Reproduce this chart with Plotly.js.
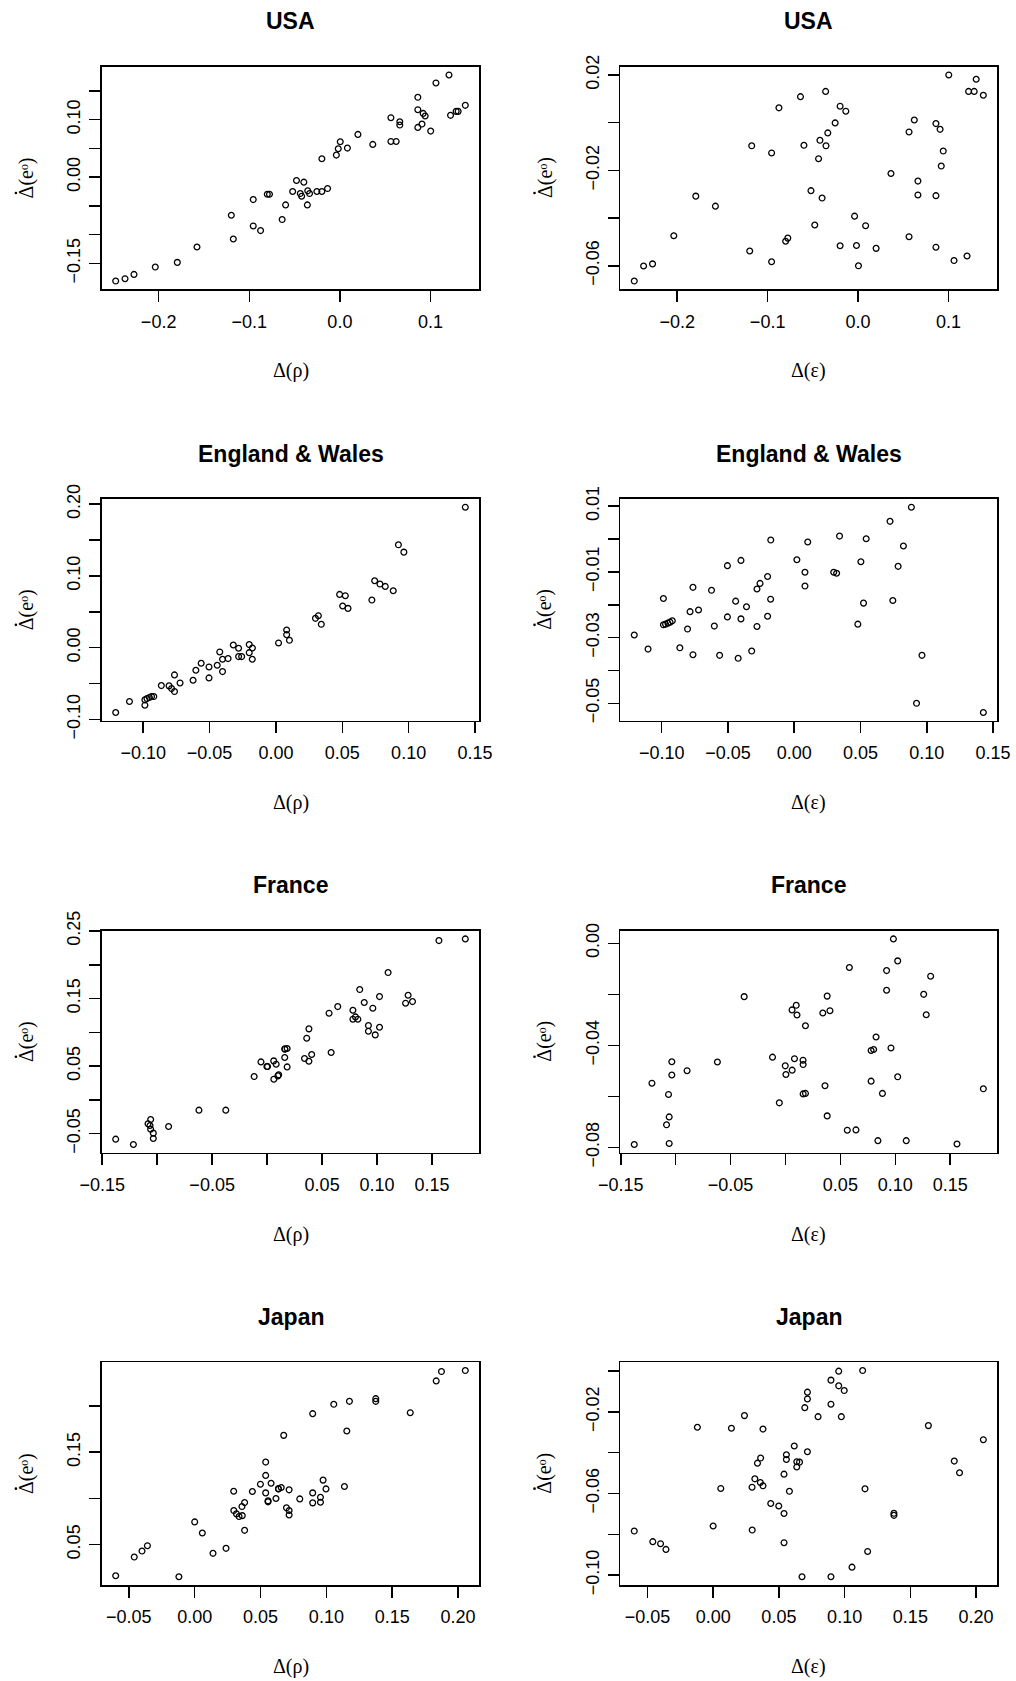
<!DOCTYPE html>
<html>
<head>
<meta charset="utf-8">
<script src="https://cdn.plot.ly/plotly-3.0.1.min.js"></script>
<style>
  html, body { margin: 0; padding: 0; background: #ffffff; }
  #chart { width: 1016px; height: 1681px; }
</style>
</head>
<body>
<div id="chart"></div>
<script>
// ---------------- DATA ----------------
const countries = ['USA', 'England & Wales', 'France', 'Japan'];

// USA: shared x, y for Δ(ρ) panel and Δ(ε) panel
const usaX = [-0.2474,-0.2371,-0.2272,-0.2037,-0.1794,-0.1577,-0.1198,-0.1176,-0.0956,-0.0956,
  -0.0875,-0.0801,-0.0777,-0.0637,-0.0599,-0.0521,-0.0479,-0.0437,-0.0422,-0.0398,
  -0.0359,-0.0355,-0.0335,-0.0254,-0.0199,-0.0199,-0.0136,-0.0039,-0.0018,0.0004,
  0.0083,0.0199,0.0363,0.0563,0.0563,0.0621,0.0661,0.0661,0.0860,0.0860,
  0.0860,0.0906,0.0919,0.0941,0.1002,0.1060,0.1204,0.1221,0.1283,0.1305,0.1384];
const usaRho = [-0.1808,-0.1767,-0.1692,-0.1564,-0.1483,-0.1215,-0.0663,-0.1076,-0.0390,-0.0849,
  -0.0930,-0.0297,-0.0297,-0.0738,-0.0483,-0.0250,-0.0058,-0.0285,-0.0331,-0.0087,
  -0.0483,-0.0238,-0.0285,-0.0250,-0.0250,0.0320,-0.0198,0.0384,0.0494,0.0616,
  0.0506,0.0744,0.0570,0.1035,0.0622,0.0622,0.0965,0.0907,0.1390,0.1174,
  0.0866,0.0924,0.1110,0.1064,0.0802,0.1640,0.1779,0.1076,0.1145,0.1145,0.1250];
const usaEps = [-0.0664,-0.0601,-0.0592,-0.0474,-0.0308,-0.0350,-0.0538,-0.0097,-0.0127,-0.0583,
  0.0062,-0.0497,-0.0484,0.0109,-0.0095,-0.0285,-0.0429,-0.0151,-0.0074,-0.0316,
  0.0131,-0.0097,-0.0043,-0.0001,0.0069,-0.0516,0.0048,-0.0392,-0.0515,-0.0600,
  -0.0432,-0.0527,-0.0213,-0.0039,-0.0478,0.0011,-0.0245,-0.0303,-0.0004,-0.0306,
  -0.0522,-0.0028,-0.0182,-0.0119,0.0200,-0.0578,-0.0559,0.0131,0.0131,0.0182,0.0115];

// England & Wales
const ewX = [-0.1207,-0.1103,-0.0987,-0.0987,-0.0971,-0.0953,-0.0937,-0.0920,-0.0863,-0.0805,
  -0.0786,-0.0764,-0.0764,-0.0722,-0.0624,-0.0603,-0.0563,-0.0504,-0.0504,-0.0442,
  -0.0423,-0.0402,-0.0402,-0.0360,-0.0321,-0.0281,-0.0281,-0.0258,-0.0201,-0.0201,
  -0.0177,-0.0178,0.0020,0.0081,0.0081,0.0102,0.0298,0.0320,0.0342,0.0480,
  0.0503,0.0523,0.0543,0.0723,0.0744,0.0784,0.0824,0.0884,0.0923,0.0964,0.1427];
const ewRho = [-0.0904,-0.0751,-0.0802,-0.0728,-0.0710,-0.0696,-0.0682,-0.0682,-0.0529,-0.0533,
  -0.0571,-0.0612,-0.0380,-0.0492,-0.0455,-0.0315,-0.0218,-0.0269,-0.0422,-0.0246,
  -0.0060,-0.0162,-0.0334,-0.0153,0.0037,-0.0009,-0.0125,-0.0125,0.0042,-0.0070,
  -0.0005,-0.0162,0.0065,0.0246,0.0181,0.0102,0.0408,0.0445,0.0325,0.0742,
  0.0580,0.0724,0.0547,0.0663,0.0932,0.0886,0.0853,0.0793,0.1433,0.1331,0.1957];
const ewEps = [-0.0292,-0.0335,-0.0181,-0.0261,-0.0259,-0.0256,-0.0253,-0.0249,-0.0331,-0.0274,
  -0.0221,-0.0147,-0.0352,-0.0216,-0.0156,-0.0265,-0.0354,-0.0081,-0.0237,-0.0189,
  -0.0363,-0.0065,-0.0243,-0.0206,-0.0341,-0.0152,-0.0266,-0.0135,-0.0114,-0.0235,
  -0.0003,-0.0183,-0.0063,-0.0101,-0.0143,-0.0009,-0.0101,-0.0104,0.0009,-0.0259,
  -0.0069,-0.0195,0.0001,0.0054,-0.0187,-0.0083,-0.0021,0.0097,-0.0500,-0.0354,-0.0528];

// France
const frX = [-0.1377,-0.1216,-0.1083,-0.1065,-0.1059,-0.1059,-0.1035,-0.1035,-0.0896,-0.0620,
  -0.0376,-0.0118,-0.0056,-0.0002,0.0004,0.0060,0.0061,0.0082,0.0098,0.0105,
  0.0160,0.0161,0.0161,0.0182,0.0182,0.0340,0.0360,0.0380,0.0380,0.0405,
  0.0563,0.0582,0.0642,0.0780,0.0780,0.0803,0.0825,0.0842,0.0883,0.0921,
  0.0921,0.0961,0.0983,0.1022,0.1022,0.1100,0.1259,0.1282,0.1322,0.1562,0.1802];
const frRho = [-0.0582,-0.0661,-0.0355,-0.0380,-0.0291,-0.0434,-0.0493,-0.0572,-0.0395,-0.0153,
  -0.0153,0.0345,0.0562,0.0493,0.0493,0.0577,0.0306,0.0528,0.0355,0.0370,
  0.0627,0.0755,0.0750,0.0760,0.0488,0.0612,0.0913,0.1051,0.0572,0.0671,
  0.1283,0.0701,0.1381,0.1327,0.1194,0.1228,0.1194,0.1633,0.1441,0.1100,
  0.1016,0.1357,0.0962,0.1529,0.1075,0.1885,0.1431,0.1549,0.1455,0.2358,0.2383];
const frEps = [-0.0788,-0.0548,-0.0711,-0.0592,-0.0680,-0.0784,-0.0464,-0.0516,-0.0499,-0.0465,
  -0.0209,-0.0446,-0.0625,-0.0480,-0.0514,-0.0261,-0.0497,-0.0452,-0.0243,-0.0281,
  -0.0458,-0.0475,-0.0590,-0.0588,-0.0323,-0.0273,-0.0558,-0.0207,-0.0676,-0.0264,
  -0.0732,-0.0095,-0.0731,-0.0420,-0.0540,-0.0416,-0.0367,-0.0773,-0.0588,-0.0107,
  -0.0184,-0.0410,0.0017,-0.0069,-0.0523,-0.0773,-0.0200,-0.0280,-0.0129,-0.0786,-0.0570];

// Japan
const jpX = [-0.0600,-0.0459,-0.0400,-0.0359,-0.0120,0.0000,0.0058,0.0139,0.0238,0.0296,
  0.0297,0.0317,0.0337,0.0361,0.0359,0.0379,0.0379,0.0438,0.0499,0.0539,
  0.0539,0.0539,0.0557,0.0557,0.0580,0.0617,0.0636,0.0636,0.0657,0.0676,
  0.0697,0.0717,0.0717,0.0717,0.0798,0.0896,0.0896,0.0896,0.0955,0.0955,
  0.0975,0.0997,0.1056,0.1137,0.1155,0.1175,0.1375,0.1375,0.1637,0.1834,0.1874,0.2055];
const jpRho = [0.0163,0.0365,0.0430,0.0488,0.0152,0.0745,0.0625,0.0405,0.0459,0.1077,
  0.0868,0.0832,0.0803,0.0813,0.0911,0.0954,0.0654,0.1074,0.1153,0.1392,
  0.1248,0.1059,0.0973,0.0962,0.1163,0.0998,0.1106,0.1100,0.1117,0.1681,
  0.0897,0.1092,0.0868,0.0821,0.0994,0.1916,0.1059,0.0951,0.1012,0.0958,
  0.1197,0.1102,0.2017,0.1128,0.1728,0.2049,0.2078,0.2049,0.1926,0.2270,0.2371,0.2382];
const jpEps = [-0.0784,-0.0836,-0.0846,-0.0874,-0.0275,-0.0759,-0.0575,-0.0280,-0.0218,-0.0569,
  -0.0779,-0.0528,-0.0451,-0.0426,-0.0546,-0.0562,-0.0284,-0.0649,-0.0661,-0.0505,
  -0.0698,-0.0841,-0.0410,-0.0433,-0.0589,-0.0367,-0.0444,-0.0470,-0.0446,-0.1008,
  -0.0179,-0.0103,-0.0136,-0.0395,-0.0223,-0.0044,-0.0162,-0.1008,0.0000,-0.0072,
  -0.0223,-0.0095,-0.0961,0.0003,-0.0577,-0.0884,-0.0697,-0.0707,-0.0267,-0.0441,-0.0498,-0.0336];

// Tick values and labels (ticks whose label R skipped carry an empty label -> drawn as unlabeled ticks)
const M = '\u2212';
const usaXTickVals = [-0.2, -0.1, 0, 0.1];
const usaXTickText = [M+'0.2', M+'0.1', '0.0', '0.1'];
const usaRhoTickVals = [-0.15, -0.10, -0.05, 0, 0.05, 0.10, 0.15];
const usaRhoTickText = [M+'0.15', '', '', '0.00', '', '0.10', ''];
const usaEpsTickVals = [-0.06, -0.04, -0.02, 0, 0.02];
const usaEpsTickText = [M+'0.06', '', M+'0.02', '', '0.02'];

const ewXTickVals = [-0.10, -0.05, 0, 0.05, 0.10, 0.15];
const ewXTickText = [M+'0.10', M+'0.05', '0.00', '0.05', '0.10', '0.15'];
const ewRhoTickVals = [-0.10, -0.05, 0, 0.05, 0.10, 0.15, 0.20];
const ewRhoTickText = [M+'0.10', '', '0.00', '', '0.10', '', '0.20'];
const ewEpsTickVals = [-0.05, -0.04, -0.03, -0.02, -0.01, 0, 0.01];
const ewEpsTickText = [M+'0.05', '', M+'0.03', '', M+'0.01', '', '0.01'];

const frXTickVals = [-0.15, -0.10, -0.05, 0, 0.05, 0.10, 0.15];
const frXTickText = [M+'0.15', '', M+'0.05', '', '0.05', '0.10', '0.15'];
const frRhoTickVals = [-0.05, 0, 0.05, 0.10, 0.15, 0.20, 0.25];
const frRhoTickText = [M+'0.05', '', '0.05', '', '0.15', '', '0.25'];
const frEpsTickVals = [-0.08, -0.06, -0.04, -0.02, 0];
const frEpsTickText = [M+'0.08', '', M+'0.04', '', '0.00'];

const jpXTickVals = [-0.05, 0, 0.05, 0.10, 0.15, 0.20];
const jpXTickText = [M+'0.05', '0.00', '0.05', '0.10', '0.15', '0.20'];
const jpRhoTickVals = [0.05, 0.10, 0.15, 0.20];
const jpRhoTickText = ['0.05', '', '0.15', ''];
const jpEpsTickVals = [-0.10, -0.08, -0.06, -0.04, -0.02, 0];
const jpEpsTickText = [M+'0.10', '', M+'0.06', '', M+'0.02', ''];

const xLabelRho = '\u0394(\u03C1)';
const xLabelEps = '\u0394(\u03B5)';
const yLabel = '\u0394(e\u1D52)';   // the dot over Δ is drawn as a small mark

// ---------------- LAYOUT GEOMETRY (pixels) ----------------
const W = 1016, H = 1681;
const colL = [101.7, 620.3], colR = [479.3, 997.3];
const rowT = [66.7, 499, 930.7, 1362.3], rowB = [289.3, 720.7, 1152.7, 1585];

function rRange(a) {
  const mn = Math.min(...a), mx = Math.max(...a), d = (mx - mn) * 0.04;
  return [mn - d, mx + d];
}
function split(vals, texts) {
  const mv = [], mt = [], nv = [];
  vals.forEach((v, i) => { if (texts[i] !== '') { mv.push(v); mt.push(texts[i]); } else { nv.push(v); } });
  return {mv, mt, nv};
}

const panels = [
  {x: usaX, y: usaRho, xv: usaXTickVals, xt: usaXTickText, yv: usaRhoTickVals, yt: usaRhoTickText, xl: xLabelRho},
  {x: usaX, y: usaEps, xv: usaXTickVals, xt: usaXTickText, yv: usaEpsTickVals, yt: usaEpsTickText, xl: xLabelEps},
  {x: ewX, y: ewRho, xv: ewXTickVals, xt: ewXTickText, yv: ewRhoTickVals, yt: ewRhoTickText, xl: xLabelRho},
  {x: ewX, y: ewEps, xv: ewXTickVals, xt: ewXTickText, yv: ewEpsTickVals, yt: ewEpsTickText, xl: xLabelEps},
  {x: frX, y: frRho, xv: frXTickVals, xt: frXTickText, yv: frRhoTickVals, yt: frRhoTickText, xl: xLabelRho},
  {x: frX, y: frEps, xv: frXTickVals, xt: frXTickText, yv: frEpsTickVals, yt: frEpsTickText, xl: xLabelEps},
  {x: jpX, y: jpRho, xv: jpXTickVals, xt: jpXTickText, yv: jpRhoTickVals, yt: jpRhoTickText, xl: xLabelRho},
  {x: jpX, y: jpEps, xv: jpXTickVals, xt: jpXTickText, yv: jpEpsTickVals, yt: jpEpsTickText, xl: xLabelEps}
];

const tickFont = {family: 'Liberation Sans, Arial, sans-serif', size: 18, color: '#000'};
const labFont = {family: 'Liberation Serif, DejaVu Serif, serif', size: 20, color: '#000'};
const titleFont = {family: 'Liberation Sans, Arial, sans-serif', size: 23, color: '#000', weight: 700};

const traces = [];
const layout = {
  width: W, height: H,
  margin: {l: 0, r: 0, t: 0, b: 0},
  paper_bgcolor: '#fff', plot_bgcolor: '#fff',
  showlegend: false,
  annotations: [],
  shapes: []
};

panels.forEach((p, i) => {
  const k = i + 1;
  const row = Math.floor(i / 2), col = i % 2;
  const xs = k === 1 ? '' : String(k);
  traces.push({
    type: 'scatter', mode: 'markers',
    x: p.x, y: p.y,
    xaxis: 'x' + xs, yaxis: 'y' + xs,
    marker: {symbol: 'circle-open', size: 5.8, color: '#000', line: {width: 1.3, color: '#000'}},
    hoverinfo: 'x+y'
  });
  const common = {
    showline: true, mirror: true, linecolor: '#000', linewidth: 1.6,
    ticks: 'outside', ticklen: 11, tickwidth: 1.5, tickcolor: '#000',
    showgrid: false, zeroline: false, tickmode: 'array', tickfont: tickFont,
    fixedrange: true
  };
  const sx = split(p.xv, p.xt), sy = split(p.yv, p.yt);
  const minorCfg = (vals) => ({tickmode: 'array', tickvals: vals, ticks: 'outside', ticklen: 11, tickwidth: 1.5, tickcolor: '#000', showgrid: false});
  layout['xaxis' + xs] = Object.assign({}, common, {
    domain: [colL[col] / W, colR[col] / W],
    range: rRange(p.x), anchor: 'y' + xs,
    tickvals: sx.mv, ticktext: sx.mt, ticklabelstandoff: 4,
    minor: minorCfg(sx.nv)
  });
  layout['yaxis' + xs] = Object.assign({}, common, {
    domain: [1 - rowB[row] / H, 1 - rowT[row] / H],
    range: rRange(p.y), anchor: 'x' + xs,
    tickvals: sy.mv, ticktext: sy.mt, tickangle: -90, ticklabelstandoff: 2,
    minor: minorCfg(sy.nv)
  });
  const cx = (colL[col] + colR[col]) / 2 / W;
  // panel title
  layout.annotations.push({
    xref: 'paper', yref: 'paper', x: cx, y: 1 - (rowT[row] - 45.3) / H,
    xanchor: 'center', yanchor: 'middle', showarrow: false,
    text: countries[row], font: titleFont
  });
  // x label
  layout.annotations.push({
    xref: 'paper', yref: 'paper', x: cx, y: 1 - (rowB[row] + 81.3) / H,
    xanchor: 'center', yanchor: 'middle', showarrow: false,
    text: p.xl, font: labFont
  });
  // y label
  const ylx = colL[col] - 75.3, yly = (rowT[row] + rowB[row]) / 2;
  layout.annotations.push({
    xref: 'paper', yref: 'paper', x: ylx / W, y: 1 - yly / H,
    xanchor: 'center', yanchor: 'middle', showarrow: false, textangle: -90,
    text: yLabel, font: labFont
  });
  // dot above the Δ of the y label
  const dx = ylx - 10.5, dy = yly + 15, r = 1.3;
  layout.shapes.push({
    type: 'circle', xref: 'paper', yref: 'paper',
    x0: (dx - r) / W, x1: (dx + r) / W, y0: 1 - (dy + r) / H, y1: 1 - (dy - r) / H,
    fillcolor: '#000', line: {width: 0}
  });
});

Plotly.newPlot('chart', traces, layout, {displayModeBar: false, staticPlot: true});
</script>
</body>
</html>
